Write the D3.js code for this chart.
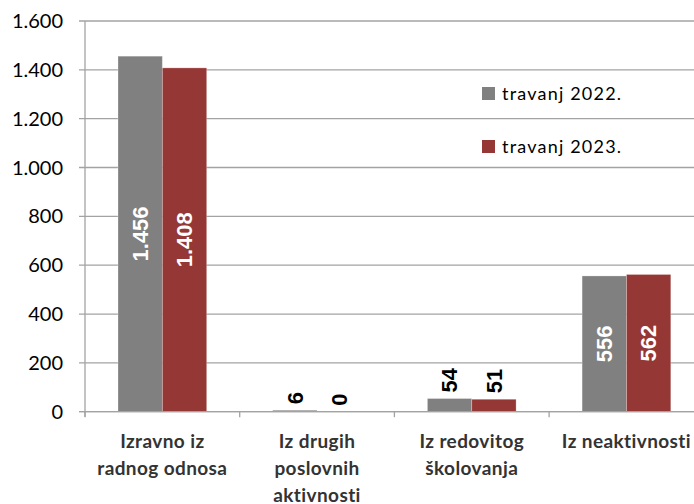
<!DOCTYPE html>
<html>
<head>
<meta charset="utf-8">
<script src="https://cdn.jsdelivr.net/npm/d3@7"></script>
<style>
    body { margin: 0; background: #fff; }
    svg { display: block; }
</style>
</head>
<body>
<script>
// data
var categoryLines = [
    ['Izravno iz', 'radnog odnosa'],
    ['Iz drugih', 'poslovnih', 'aktivnosti'],
    ['Iz redovitog', 'školovanja'],
    ['Iz neaktivnosti']
];
var categories = categoryLines.map(function(d) { return d.join(' '); });
var series = ['travanj 2022.', 'travanj 2023.'];
var values2022 = [1456, 6, 54, 556];
var values2023 = [1408, 0, 51, 562];
var yTicks = [0, 200, 400, 600, 800, 1000, 1200, 1400, 1600];
var colors = ['#808080', '#953735'];

var W = 694, H = 504;
var left = 85, bandW = 154.7, y0 = 411.7, yTop = 21;

var hr = d3.formatLocale({decimal: ',', thousands: '.', grouping: [3], currency: ['', ' kn']});
var fmt = hr.format(',d');

var svg = d3.select('body').append('svg')
    .attr('width', W)
    .attr('height', H);

var y = d3.scaleLinear().domain([0, 1600]).range([y0, yTop]);
var x = d3.scaleBand().domain(categories).range([left, left + 4 * bandW]);
var x1 = d3.scaleBand().domain(series).range([33, bandW - 33]);

// gridlines + y ticks
svg.append('g').selectAll('line')
    .data(yTicks)
    .enter().append('line')
    .attr('x1', left - 6)
    .attr('x2', W)
    .attr('y1', function(d) { return y(d); })
    .attr('y2', function(d) { return y(d); })
    .style('stroke', '#a3a3a3')
    .style('stroke-width', 1.3);

svg.append('g').selectAll('text')
    .data(yTicks)
    .enter().append('text')
    .attr('x', left - 22)
    .attr('y', function(d) { return y(d); })
    .attr('dy', '0.35em')
    .attr('text-anchor', 'end')
    .text(function(d) { return fmt(d); })
    .style('font-family', 'Lato, sans-serif')
    .style('font-size', '20px')
    .style('fill', '#000');

// y axis line
svg.append('line')
    .attr('x1', left).attr('x2', left)
    .attr('y1', yTop).attr('y2', y0 + 5)
    .style('stroke', '#a3a3a3')
    .style('stroke-width', 1.3);

// x axis ticks between categories
svg.append('g').selectAll('line')
    .data(d3.range(5))
    .enter().append('line')
    .attr('x1', function(i) { return left + i * bandW; })
    .attr('x2', function(i) { return left + i * bandW; })
    .attr('y1', y0)
    .attr('y2', y0 + 5.5)
    .style('stroke', '#a3a3a3')
    .style('stroke-width', 1.3);

// bars
var rows = categories.map(function(c, i) {
    return [
        {cat: c, s: series[0], v: values2022[i], k: 0},
        {cat: c, s: series[1], v: values2023[i], k: 1}
    ];
});
var flat = [].concat.apply([], rows);

var groups = svg.append('g');
groups.selectAll('rect')
    .data(flat)
    .enter().append('rect')
    .attr('x', function(d) { return x(d.cat) + x1(d.s); })
    .attr('y', function(d) { return y(d.v); })
    .attr('width', x1.bandwidth())
    .attr('height', function(d) { return y0 - y(d.v); })
    .style('fill', function(d) { return colors[d.k]; })
    .style('stroke', 'rgba(255,255,255,0.35)')
    .style('stroke-width', 0.8);

// x axis line on top of bars
svg.append('line')
    .attr('x1', left - 6).attr('x2', W)
    .attr('y1', y0).attr('y2', y0)
    .style('stroke', '#a3a3a3')
    .style('stroke-width', 1.3);

// value labels, rotated
groups.selectAll('text.val')
    .data(flat)
    .enter().append('text')
    .attr('class', 'val')
    .attr('transform', function(d) {
        var cx = x(d.cat) + x1(d.s) + x1.bandwidth() / 2;
        var inside = (y0 - y(d.v)) > 80;
        if (inside) {
            var cy = (y(d.v) + y0) / 2;
            return 'translate(' + cx + ',' + cy + ') rotate(-90)';
        }
        return 'translate(' + cx + ',' + (y(d.v) - 6) + ') rotate(-90)';
    })
    .attr('text-anchor', function(d) { return (y0 - y(d.v)) > 80 ? 'middle' : 'start'; })
    .attr('dy', '0.35em')
    .text(function(d) { return fmt(d.v); })
    .style('font-family', '"Liberation Sans", Arial, sans-serif')
    .style('font-weight', 'bold')
    .style('font-size', '22px')
    .style('fill', function(d) { return (y0 - y(d.v)) > 80 ? '#fff' : '#000'; });

// category labels
categoryLines.forEach(function(lines, i) {
    var t = svg.append('text')
        .attr('x', x(categories[i]) + bandW / 2)
        .attr('y', 448)
        .attr('text-anchor', 'middle')
        .style('font-family', 'Lato, sans-serif')
        .style('font-weight', 'bold')
        .style('font-size', '19px')
        .style('letter-spacing', '0.4px')
        .style('fill', '#333');
    lines.forEach(function(l, j) {
        t.append('tspan')
            .attr('x', x(categories[i]) + bandW / 2)
            .attr('dy', j === 0 ? 0 : 27)
            .text(l);
    });
});

// legend
var legend = svg.append('g');
series.forEach(function(s, i) {
    legend.append('rect')
        .attr('x', 482)
        .attr('y', 87 + i * 53)
        .attr('width', 13)
        .attr('height', 13)
        .style('fill', colors[i]);
    legend.append('text')
        .attr('x', 502)
        .attr('y', 99.5 + i * 53)
        .text(s)
        .style('font-family', 'Lato, sans-serif')
        .style('font-size', '18px')
        .style('letter-spacing', '1.2px')
        .style('fill', '#000');
});
</script>
</body>
</html>
